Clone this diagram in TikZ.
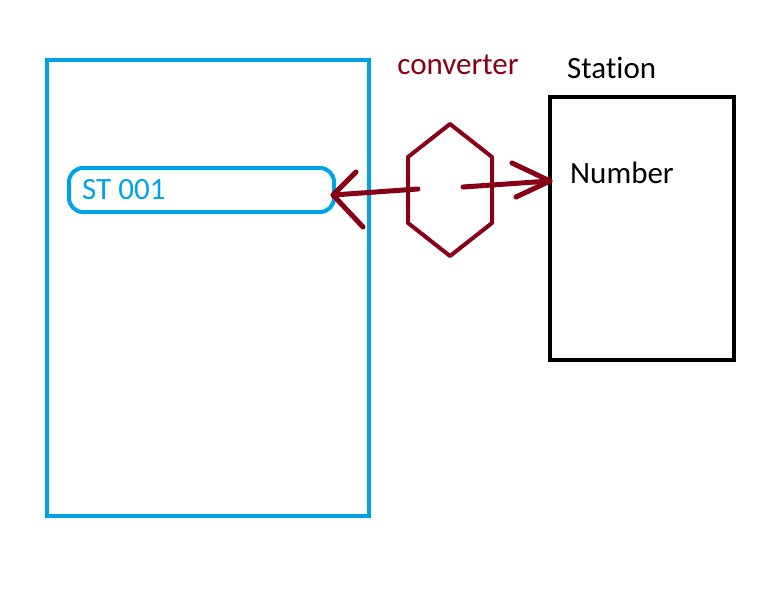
\documentclass[tikz,border=0pt]{standalone}
\usepackage{fontspec}
\setmainfont[Ligatures=NoCommon]{Carlito}
\definecolor{pblue}{RGB}{0,162,232}
\definecolor{pred}{RGB}{136,0,21}
\begin{document}
\begin{tikzpicture}[x=1pt,y=-1pt,
  lbl/.style={font=\fontsize{31}{36}\selectfont, inner sep=0pt},
  bluebox/.style={draw=pblue, line width=4pt},
  blackbox/.style={draw=black, line width=4pt},
  redline/.style={draw=pred, line width=4pt, line cap=round, line join=round},
  arrowline/.style={draw=pred, line width=5pt, line cap=round, line join=round}]
\useasboundingbox (0,0) rectangle (768,614);
% left blue box
\draw[bluebox] (47,60) rectangle (369,516);
\draw[bluebox, rounded corners=14pt] (69,168) rectangle (334,212);
\node[lbl, text=pblue, anchor=west] (st) at (82,190) {ST 001};
\coordinate (stend) at (333,195);
% station box
\draw[blackbox] (550,97) rectangle (734,360);
\coordinate (stationedge) at (550,181);
\node[lbl, anchor=west] (station) at (567,68) {Station};
\node[lbl, anchor=west] (number) at (570,173) {Number};
% converter
\node[lbl, text=pred] (conv) at (458,65) {converter};
\draw[redline] (450,124) -- (492,157) -- (492,223) -- (450,256) -- (408,223) -- (408,157) -- cycle;
\coordinate (lstart) at (418,189);
\coordinate (rstart) at (463,187);
\draw[arrowline] (lstart) -- (stend);
\draw[arrowline] (356,172) -- (stend) -- (363,227);
\draw[arrowline] (rstart) -- (stationedge);
\draw[arrowline] (512,163) -- (stationedge) -- (516,197);
\end{tikzpicture}
\end{document}
